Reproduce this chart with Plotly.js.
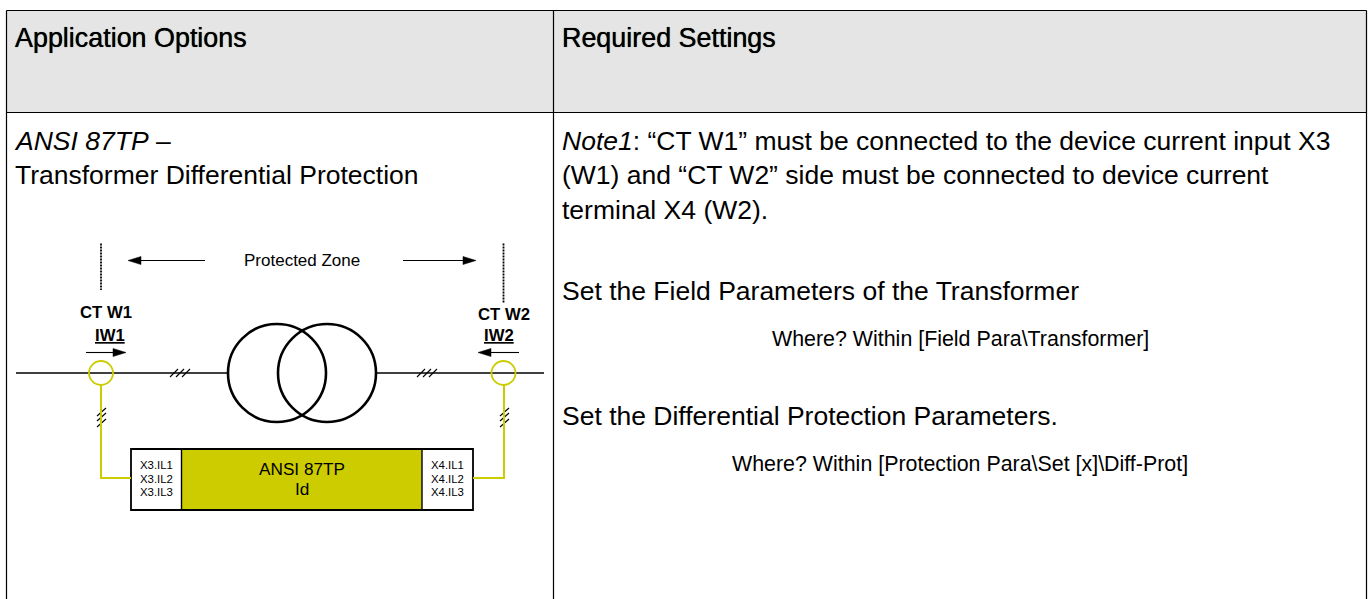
<!DOCTYPE html>
<html><head><meta charset="utf-8">
<script src="https://cdn.plot.ly/plotly-3.0.1.min.js"></script>
<style>html,body{margin:0;padding:0;background:#fff}#c{width:1372px;height:599px}</style>
</head><body><div id="c"></div>
<script>
const FONT='"Liberation Sans", Arial, sans-serif';
const HEADSZ=26.9, BIG=26.5, SMALL=21.4;
// text: [text, x, y, size, anchor]
const tableTexts=[
 ['Application Options',15,38,HEADSZ,'left'],
 ['Required Settings',562,38,HEADSZ,'left'],
 ['<i>ANSI 87TP</i> –',13.5,141,BIG,'left'],
 ['Transformer Differential Protection',15,175,BIG,'left'],
 ['<i>Note1</i>: “CT W1” must be connected to the device current input X3',561.5,141,BIG,'left'],
 ['(W1) and “CT W2” side must be connected to device current',562,175,BIG,'left'],
 ['terminal X4 (W2).',562,210,BIG,'left'],
 ['Set the Field Parameters of the Transformer',562,291,BIG,'left'],
 ['Where? Within [Field Para\\Transformer]',960,339,SMALL,'center'],
 ['Set the Differential Protection Parameters.',562,416,BIG,'left'],
 ['Where? Within [Protection Para\\Set [x]\\Diff-Prot]',960,464,SMALL,'center']
];
const diagramTexts=[
 ['Protected Zone',302,260,17,'center'],
 ['<b>CT W1</b>',106,312,16.7,'center'],
 ['<b><u>IW1</u></b>',110,335,16.7,'center'],
 ['<b>CT W2</b>',504,314,16.7,'center'],
 ['<b><u>IW2</u></b>',498.5,335,16.7,'center'],
 ['X3.IL1',156,465,11.4,'center'],['X3.IL2',156,479,11.4,'center'],['X3.IL3',156,492,11.4,'center'],
 ['X4.IL1',447,465,11.4,'center'],['X4.IL2',447,479,11.4,'center'],['X4.IL3',447,492,11.4,'center'],
 ['ANSI 87TP',302,469,17.2,'center'],['Id',302,489,17.2,'center']
];
const GRID='#000000', HEAD='#e5e5e5', YEL='#cccc00', LINE='#000000';
const fills=[[6,10.5,1366,112,HEAD],[181.5,449,422,510,YEL]];
const boxes=[[131,449,473,510,1.8]];
const segs=[ // x0,y0,x1,y1,color,width
 [6.5,10.5,1366.5,10.5,GRID,1.2],[6.5,112.5,1366.5,112.5,GRID,1.2],
 [6.5,10.5,6.5,599,GRID,1.2],[553.5,10.5,553.5,599,GRID,1.2],[1366.5,10.5,1366.5,599,GRID,1.2],
 [16,373,228,373,LINE,1.6],[376,373,544,373,LINE,1.6],
 [141,260.5,205,260.5,LINE,1.1],[403,260.5,463,260.5,LINE,1.1],
 [86,352.5,114,352.5,LINE,1.1],[491,352.5,519,352.5,LINE,1.1],
 [181.5,449,181.5,510,LINE,1.4],[422,449,422,510,LINE,1.4],
 [170,377,178,369,LINE,1.1],[176,377,184,369,LINE,1.1],[182,377,190,369,LINE,1.1],
 [417,377,425,369,LINE,1.1],[423,377,431,369,LINE,1.1],[429,377,437,369,LINE,1.1],
 [97,416,106,408,LINE,1.1],[97,421,106,413,LINE,1.1],[97,427,106,419,LINE,1.1],
 [500,416,509,408,LINE,1.1],[500,421,509,413,LINE,1.1],[500,427,509,419,LINE,1.1]
];
const dashed=[[101,243.5,101,290],[503.5,243.5,503.5,303]];
const yellowPaths=['M101,385L101,478L131,478','M504,385L504,478L473,478'];
const circles=[[277,373,49,LINE,2.6],[327,373,49,LINE,2.6],[101,373,12,YEL,1.8],[503.5,373,12,YEL,1.8]];
const heads=['M128,260.5L141,256.5L141,264.5Z','M476,260.5L463,256.5L463,264.5Z','M126,352.5L113,348.5L113,356.5Z','M478,352.5L491,348.5L491,356.5Z'];

const shapes=[];
fills.forEach(f=>shapes.push({type:'rect',x0:f[0],y0:f[1],x1:f[2],y1:f[3],fillcolor:f[4],line:{width:0},layer:'below'}));
segs.forEach(s=>shapes.push({type:'line',x0:s[0],y0:s[1],x1:s[2],y1:s[3],line:{color:s[4],width:s[5]}}));
dashed.forEach(s=>shapes.push({type:'line',x0:s[0],y0:s[1],x1:s[2],y1:s[3],line:{color:LINE,width:1.8,dash:'2px,1px'}}));
boxes.forEach(b=>shapes.push({type:'rect',x0:b[0],y0:b[1],x1:b[2],y1:b[3],line:{color:LINE,width:b[4]}}));
yellowPaths.forEach(p=>shapes.push({type:'path',path:p,line:{color:YEL,width:2}}));
circles.forEach(c=>shapes.push({type:'circle',x0:c[0]-c[2],x1:c[0]+c[2],y0:c[1]-c[2],y1:c[1]+c[2],line:{color:c[3],width:c[4]}}));
heads.forEach(p=>shapes.push({type:'path',path:p,fillcolor:LINE,line:{color:LINE,width:.5}}));
const annotations=tableTexts.concat(diagramTexts).map(t=>({text:t[0],x:t[1],y:t[2],xref:'x',yref:'y',xanchor:t[4],yanchor:'middle',showarrow:false,borderpad:0,borderwidth:0,font:{family:FONT,size:t[3],color:'#000',shadow:t[3]===HEADSZ?'0 0 0.7px #000':'none'}}));
const ax={range:[0,1372],visible:false,fixedrange:true};
Plotly.newPlot('c',[{x:[0,1372],y:[0,599],mode:'markers',marker:{opacity:0},hoverinfo:'skip',showlegend:false}],{
 width:1372,height:599,margin:{l:0,r:0,t:0,b:0},paper_bgcolor:'#fff',plot_bgcolor:'#fff',showlegend:false,
 xaxis:ax,yaxis:{range:[599,0],visible:false,fixedrange:true},shapes,annotations
},{displayModeBar:false,staticPlot:true});
</script></body></html>
